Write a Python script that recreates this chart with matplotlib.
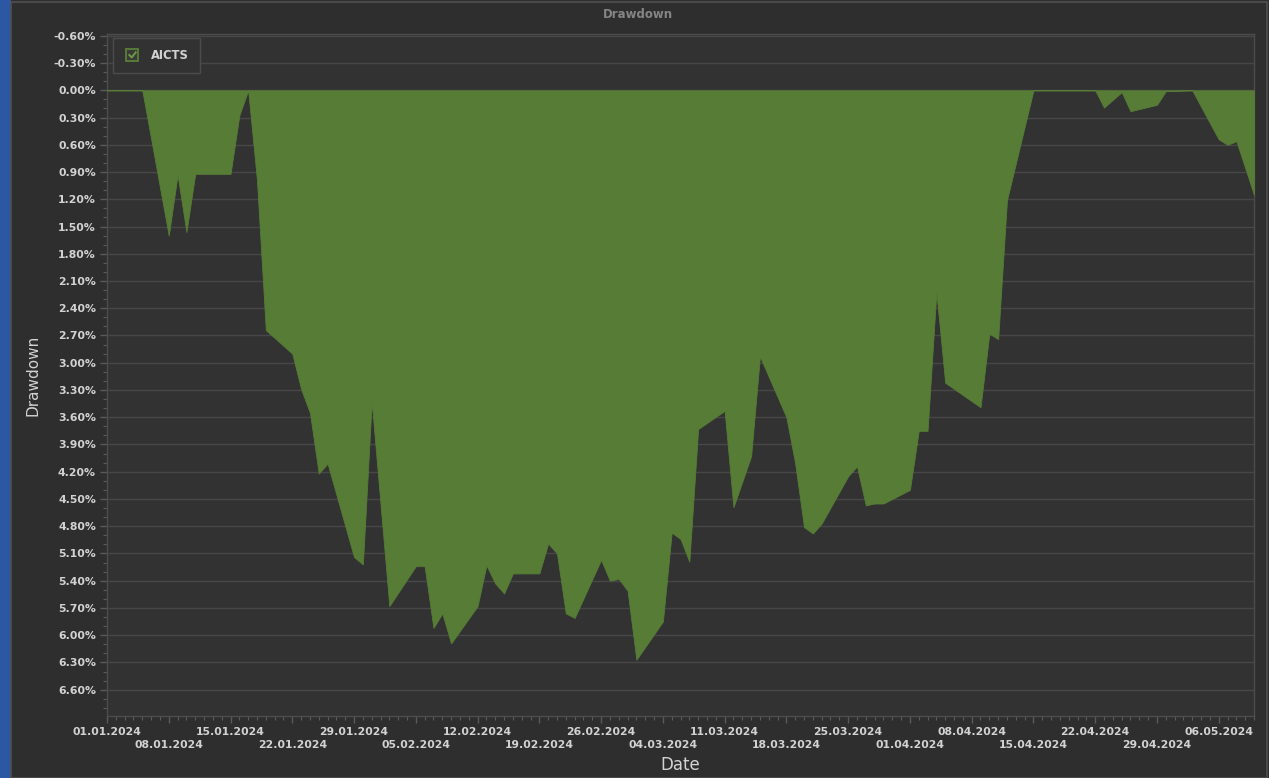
import pandas as pd
import numpy as np
import matplotlib
matplotlib.use("Agg")
import matplotlib.pyplot as plt
import matplotlib.dates as mdates
from matplotlib.patches import Rectangle
from matplotlib.lines import Line2D
from matplotlib.legend_handler import HandlerBase

# Drawdown series (percent, positive = below peak)
dates = [
    "2024-01-01", "2024-01-02", "2024-01-03", "2024-01-04", "2024-01-05",
    "2024-01-08", "2024-01-09", "2024-01-10", "2024-01-11", "2024-01-12",
    "2024-01-15", "2024-01-16", "2024-01-17", "2024-01-18", "2024-01-19",
    "2024-01-22", "2024-01-23", "2024-01-24", "2024-01-25", "2024-01-26",
    "2024-01-29", "2024-01-30", "2024-01-31", "2024-02-02",
    "2024-02-05", "2024-02-06", "2024-02-07", "2024-02-08", "2024-02-09",
    "2024-02-12", "2024-02-13", "2024-02-14", "2024-02-15", "2024-02-16",
    "2024-02-19", "2024-02-20", "2024-02-21", "2024-02-22", "2024-02-23",
    "2024-02-26", "2024-02-27", "2024-02-28", "2024-02-29", "2024-03-01",
    "2024-03-04", "2024-03-05", "2024-03-06", "2024-03-07", "2024-03-08",
    "2024-03-11", "2024-03-12", "2024-03-13", "2024-03-14", "2024-03-15",
    "2024-03-18", "2024-03-19", "2024-03-20", "2024-03-21", "2024-03-22",
    "2024-03-25", "2024-03-26", "2024-03-27", "2024-03-28", "2024-03-29",
    "2024-04-01", "2024-04-02", "2024-04-03", "2024-04-04", "2024-04-05",
    "2024-04-09", "2024-04-10", "2024-04-11", "2024-04-12",
    "2024-04-15", "2024-04-22", "2024-04-23", "2024-04-25", "2024-04-26",
    "2024-04-29", "2024-04-30", "2024-05-03",
    "2024-05-06", "2024-05-07", "2024-05-08", "2024-05-10",
]
drawdown = [
    0.00, 0.00, 0.00, 0.00, 0.00,
    1.60, 0.93, 1.56, 0.92, 0.92,
    0.92, 0.275, 0.00, 0.99, 2.64,
    2.90, 3.29, 3.55, 4.22, 4.11,
    5.14, 5.22, 3.43, 5.68,
    5.24, 5.24, 5.92, 5.76, 6.09,
    5.68, 5.23, 5.43, 5.54, 5.32,
    5.32, 4.99, 5.10, 5.76, 5.81,
    5.17, 5.40, 5.38, 5.51, 6.27,
    5.85, 4.87, 4.94, 5.19, 3.73,
    3.53, 4.59, 4.31, 4.03, 2.93,
    3.60, 4.11, 4.81, 4.88, 4.77,
    4.25, 4.14, 4.57, 4.55, 4.55,
    4.40, 3.75, 3.75, 2.22, 3.22,
    3.49, 2.68, 2.74, 1.21,
    0.00, 0.00, 0.19, 0.02, 0.23,
    0.16, 0.01, 0.00,
    0.54, 0.60, 0.56, 1.15,
]
series_name = "AICTS"
y_ticks = np.round(np.arange(-0.6, 6.61, 0.3), 2)

df = pd.DataFrame({"date": pd.to_datetime(dates), "dd": drawdown})

BG = "#2e2e2e"
PLOT_BG = "#323232"
GREEN = "#567c35"
TXT = "#d2d2d2"

fig = plt.figure(figsize=(12.69, 7.78), dpi=100, facecolor=BG)
ax = fig.add_axes([107 / 1269, 1 - 716 / 778, 1147 / 1269, 682 / 778])
ax.set_facecolor(PLOT_BG)

ax.fill_between(df["date"], 0, df["dd"], color=GREEN, linewidth=0.6,
                edgecolor=GREEN, zorder=3)

# axis ranges
ax.set_xlim(pd.Timestamp("2024-01-01"), pd.Timestamp("2024-05-10"))
ax.set_ylim(6.89, -0.62)

# y ticks
ax.set_yticks(y_ticks)
ax.set_yticklabels([f"{v:.2f}%" for v in y_ticks])
ax.yaxis.set_minor_locator(matplotlib.ticker.MultipleLocator(0.1))
ax.grid(True, axis="y", color="#474747", linewidth=1, zorder=1)

# x ticks: weekly, labels staggered on two rows
week_ticks = pd.date_range("2024-01-01", "2024-05-06", freq="7D")
ax.set_xticks(week_ticks)
ax.set_xticklabels([d.strftime("%d.%m.%Y") for d in week_ticks])
ax.xaxis.set_minor_locator(mdates.DayLocator())

ax.tick_params(axis="both", which="major", colors="#5a5a5a", labelcolor=TXT,
               labelsize=7.8, length=5, width=1)
ax.tick_params(axis="both", which="minor", colors="#5a5a5a", length=3, width=0.8)
ax.tick_params(axis="y", pad=3)
ax.tick_params(axis="x", pad=3)
for i, tk in enumerate(ax.xaxis.get_major_ticks()):
    if i % 2 == 1:
        tk.set_pad(12)
for lab in ax.get_xticklabels() + ax.get_yticklabels():
    lab.set_fontweight("bold")

for sp in ax.spines.values():
    sp.set_color("#4c4c4c")
    sp.set_linewidth(1)

fig.text(638 / 1269, 1 - 15 / 778, "Drawdown", color="#858585", fontsize=8.5,
         fontweight="bold", ha="center", va="center")
ax.set_xlabel("Date", color=TXT, fontsize=12)
ax.xaxis.set_label_coords(0.5, -0.058)
ax.set_ylabel("Drawdown", color=TXT, fontsize=11)
ax.yaxis.set_label_coords(-0.058, 0.5)


# legend with a checkbox marker
class CheckHandler(HandlerBase):
    def create_artists(self, legend, orig_handle, xdescent, ydescent,
                       width, height, fontsize, trans):
        s = height * 1.5
        x0 = -xdescent + (width - s) / 2
        y0 = -ydescent + (height - s) / 2
        box = Rectangle((x0, y0), s, s, facecolor="#3a3a3a",
                        edgecolor=GREEN, linewidth=1.4, transform=trans)
        tick = Line2D([x0 + s * 0.25, x0 + s * 0.45, x0 + s * 0.78],
                      [y0 + s * 0.5, y0 + s * 0.3, y0 + s * 0.72],
                      color="#6f9a45", linewidth=1.4, transform=trans)
        return [box, tick]


leg = ax.legend([Rectangle((0, 0), 1, 1)], [series_name],
                handler_map={Rectangle: CheckHandler()},
                loc="upper left", bbox_to_anchor=(0.005, 0.994),
                fancybox=False, framealpha=1, facecolor=PLOT_BG,
                edgecolor="#4c4c4c", handlelength=1.5, handletextpad=0.85,
                borderpad=0.95, borderaxespad=0.0,
                prop={"size": 8.3, "weight": "bold"})
leg.get_frame().set_linewidth(1)
for t in leg.get_texts():
    t.set_color(TXT)

# window chrome: blue strip at left and panel border
fig.patches.append(Rectangle((0, 0), 11 / 1269, 1, transform=fig.transFigure,
                             facecolor="#2c57a2", edgecolor="none"))
fig.patches.append(Rectangle((11.5 / 1269, 0), 1255 / 1269, 776.5 / 778,
                             transform=fig.transFigure, facecolor="none",
                             edgecolor="#505050", linewidth=1.2))

plt.savefig("out.png", dpi=100, facecolor=BG)
